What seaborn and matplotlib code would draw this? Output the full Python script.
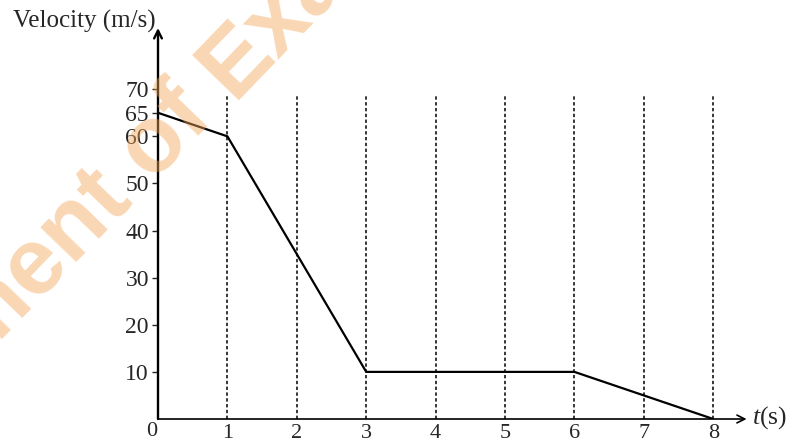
import numpy as np
import pandas as pd
import matplotlib
matplotlib.use("Agg")
import matplotlib.pyplot as plt
import seaborn as sns

# data
time_s = [0, 1, 3, 6, 8]
velocity = [65, 60, 10, 10, 0]
grid_times = [1, 2, 3, 4, 5, 6, 7, 8]
x_tick_labels = ["1", "2", "3", "4", "5", "6", "7", "8"]
y_ticks = [10, 20, 30, 40, 50, 60, 65, 70]

sns.set_style("white")
plt.rcParams["font.family"] = ["Liberation Serif", "DejaVu Serif"]
plt.rcParams["mathtext.fontset"] = "custom"
plt.rcParams["mathtext.it"] = "Liberation Serif:italic"
plt.rcParams["mathtext.rm"] = "Liberation Serif"

fig = plt.figure(figsize=(7.87, 4.43), dpi=100)
ax = fig.add_axes([158 / 787, 24 / 443, 588.6 / 787, 391 / 443])

df = pd.DataFrame({"t": time_s, "v": velocity})

# dashed guide lines at each second
ax.vlines(grid_times, 0, 69, colors="black", linestyles=(0, (2.2, 1.6)), linewidth=1.1, zorder=1)

sns.lineplot(data=df, x="t", y="v", color="black", linewidth=1.6, ax=ax, zorder=3)

ax.set_xlim(0, 8.48)
ax.set_ylim(0, 83)

for s in ax.spines.values():
    s.set_visible(False)

# axes with arrow heads
ax.annotate("", xy=(1, 0), xytext=(0, 0), xycoords="axes fraction",
            arrowprops=dict(arrowstyle="->", color="black", lw=1.2, shrinkA=0, shrinkB=0,
                            mutation_scale=14))
ax.annotate("", xy=(0, 1), xytext=(0, 0), xycoords="axes fraction",
            arrowprops=dict(arrowstyle="->", color="black", lw=1.7, shrinkA=0, shrinkB=0,
                            mutation_scale=14))

ax.set_xticks(grid_times)
ax.set_xticklabels(x_tick_labels)
ax.set_yticks(y_ticks)
ax.set_yticklabels([str(v) for v in y_ticks])
ax.tick_params(axis="x", length=0, pad=3.5, labelsize=16)
ax.tick_params(axis="y", length=4.5, width=1, direction="out", pad=2, labelsize=17, left=True)
ax.set_xlabel("")
ax.set_ylabel("")

ax.text(-0.015, -0.7, "0", ha="right", va="top", fontsize=16)
fig.text(156 / 787, 1 - 21 / 443, "Velocity (m/s)", ha="right", va="center", fontsize=18)
fig.text(752 / 787, 1 - 418 / 443, r"$t$(s)", ha="left", va="center", fontsize=18.5)

# watermark
wm_kw = dict(fontsize=68, fontweight="bold", family="Liberation Sans", color=(244 / 255, 167 / 255, 89 / 255),
             alpha=0.45, rotation=46, rotation_mode="anchor", va="baseline", zorder=10)
wm_x, wm_y = 233 / 787, 1 - 100 / 443
fig.text(wm_x, wm_y, "Department of ", ha="right", **wm_kw)
fig.text(wm_x, wm_y, "Examinations", ha="left", **wm_kw)

fig.savefig("out.png", dpi=100)
